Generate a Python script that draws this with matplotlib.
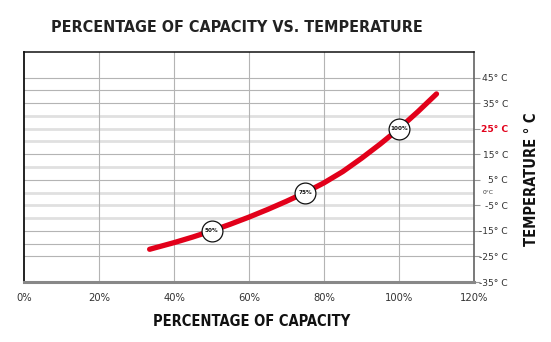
import matplotlib.pyplot as plt

# capacity (%) vs temperature (deg C)
capacity = [33.5, 40, 45, 50, 55, 60, 65, 70, 75, 80, 85, 90, 95, 100, 105, 110]
temperature = [-22.2, -19.6, -17.4, -15.0, -12.4, -9.6, -6.6, -3.4, 0.0, 3.8, 8.2, 13.4, 19.0,
               25.0, 31.6, 38.6]

# labelled points on the curve
mark_cap = [50, 75, 100]
mark_temp = [-15, 0, 25]
mark_text = ['50%', '75%', '100%']

x_ticks = [0, 20, 40, 60, 80, 100, 120]
x_labels = ['0%', '20%', '40%', '60%', '80%', '100%', '120%']
y_ticks = [45, 35, 25, 15, 5, -5, -15, -25, -35]
y_labels = ['45° C', '35° C', '25° C', '15° C', '5° C', '-5° C', '-15° C', '-25° C', '-35° C']

# horizontal grid every 5 degrees; True = wide light band, False = thin line
grid_temps = [45, 40, 35, 30, 25, 20, 15, 10, 5, 0, -5, -10, -15, -20, -25]
grid_wide = [False, False, False, True, True, True, False, True, False, True, True, True, False, False, False]

RED = '#e2001a'
narrow = ['DejaVu Sans Condensed', 'Liberation Sans Narrow', 'DejaVu Sans']
cond = dict(family=narrow, fontstretch='condensed', fontweight='bold')

fig = plt.figure(figsize=(5.51, 3.42), dpi=100)
ax = fig.add_axes([24/551, 60/342, 450/551, 230/342])

for t, wide in zip(grid_temps, grid_wide):
    if wide:
        ax.axhline(t, color='#e0e0e0', lw=2.0, zorder=1)
    else:
        ax.axhline(t, color='#b4b4b4', lw=0.8, zorder=1)
for x in x_ticks[1:-1]:
    ax.axvline(x, color='#b4b4b4', lw=0.8, zorder=1)

ax.plot(capacity, temperature, color=RED, lw=3.8, solid_capstyle='round',
        solid_joinstyle='round', zorder=3)
ax.plot(mark_cap, mark_temp, 'o', ms=15, mfc='white', mec='#111111', mew=0.9, zorder=4)
for x, y, s in zip(mark_cap, mark_temp, mark_text):
    ax.text(x, y, s, ha='center', va='center', fontsize=4.6, color='#111111', zorder=5, **cond)

ax.set_xlim(0, 120)
ax.set_ylim(-35, 55)
ax.set_xticks(x_ticks)
ax.set_xticklabels(x_labels, fontsize=7.2, color='#333333')
ax.tick_params(axis='x', length=0, pad=8)

ax.yaxis.tick_right()
ax.set_yticks(y_ticks)
ax.set_yticklabels(y_labels, fontsize=6.6, color='#333333')
ax.tick_params(axis='y', length=4, width=0.8, color='#999999', pad=2)
for lab in ax.get_yticklabels():
    lab.set_horizontalalignment('right')
    lab.set_x(1.057)
    if lab.get_text() == '25° C':
        lab.set_color(RED)
        lab.set_fontweight('bold')
ax.text(1.02, (0 + 35) / 90, '0°C', transform=ax.transAxes, fontsize=4.3,
        color='#333333', ha='left', va='center')

ax.spines['left'].set_color('#111111')
ax.spines['left'].set_linewidth(1.3)
ax.spines['top'].set_color('#111111')
ax.spines['top'].set_linewidth(1.1)
ax.spines['right'].set_color('#555555')
ax.spines['right'].set_linewidth(1.1)
ax.spines['bottom'].set_color('#888888')
ax.spines['bottom'].set_linewidth(2.2)

fig.text(237/551, 1 - 27/342, 'PERCENTAGE OF CAPACITY VS. TEMPERATURE', ha='center',
         va='center', fontsize=11.5, color='#222222', **cond)
fig.text(252/551, 1 - 321/342, 'PERCENTAGE OF CAPACITY', ha='center', va='center',
         fontsize=10.5, color='#111111', **cond)
fig.text(531/551, 1 - 179/342, 'TEMPERATURE ° C', ha='center', va='center', rotation=90,
         fontsize=10.5, color='#111111', **cond)

fig.savefig('out.png', dpi=100)
